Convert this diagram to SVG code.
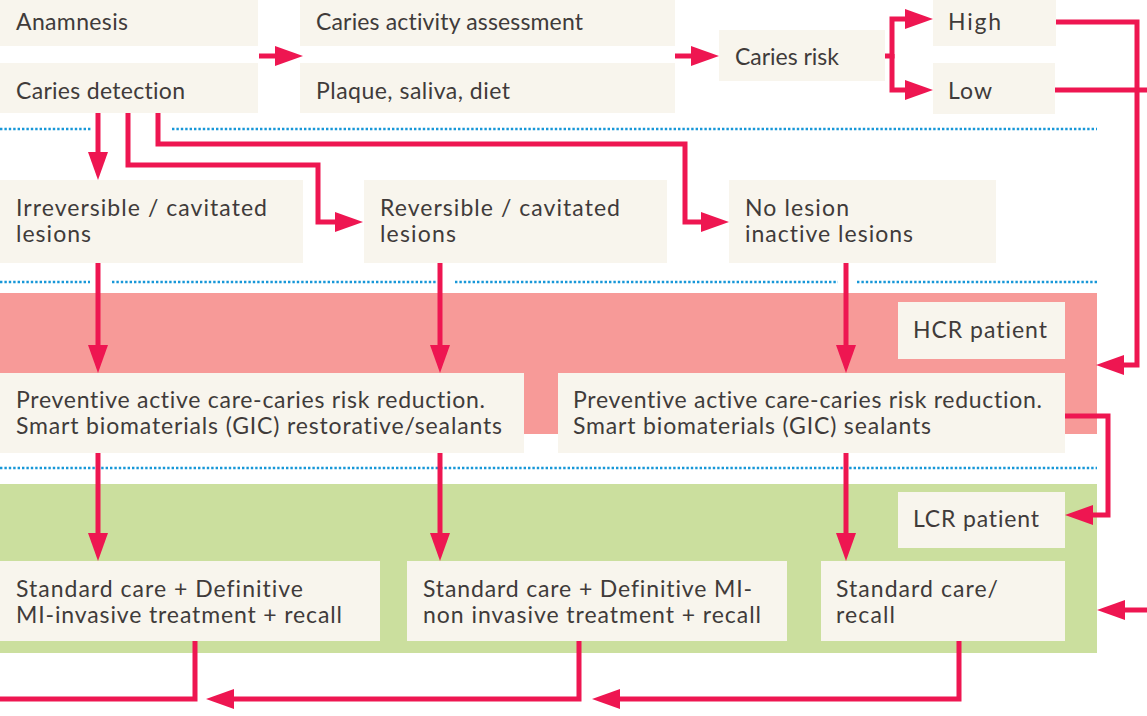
<svg xmlns="http://www.w3.org/2000/svg" width="1147" height="716" viewBox="0 0 1147 716">
<defs>
<style>
.box{fill:#f8f5ed}
.t{font-family:Lato,"Open Sans","Liberation Sans",sans-serif;font-size:23px;fill:#403b3a;font-variant-ligatures:none}
.c{fill:none;stroke:#ee1651;stroke-width:5;stroke-linejoin:miter}
.d{fill:none;stroke:#1797d8;stroke-width:2.6;stroke-dasharray:2.4 2}
</style>
<marker id="ah" markerUnits="userSpaceOnUse" markerWidth="30" markerHeight="22" viewBox="0 -11 30 22" refX="0" refY="0" orient="auto" overflow="visible">
<path d="M0,-10 L28,0 L0,10 z" fill="#ee1651"/>
</marker>
</defs>
<rect width="1147" height="716" fill="#ffffff"/>
<g id="bands">
<rect x="0" y="293" width="1097" height="141" fill="#f79a98"/>
<rect x="0" y="484" width="1097" height="169" fill="#cbdf9e"/>
</g>
<g id="separators">
<path class="d" d="M0,129 H91 M172,129 H1097"/>
<path class="d" d="M0,282 H90 M112,282 H437 M455,282 H838 M857,282 H1097"/>
<path class="d" d="M0,468 H1097"/>
</g>
<g id="anamnesis"><rect class="box" x="0" y="0" width="258" height="46"/><text class="t" x="16" y="29.5" textLength="112" lengthAdjust="spacing">Anamnesis</text></g>
<g id="caries-detection"><rect class="box" x="0" y="63" width="258" height="50"/><text class="t" x="16" y="98.5" textLength="169" lengthAdjust="spacing">Caries detection</text></g>
<g id="activity"><rect class="box" x="300" y="0" width="375" height="46"/><text class="t" x="316" y="29.5" textLength="267" lengthAdjust="spacing">Caries activity assessment</text></g>
<g id="plaque"><rect class="box" x="300" y="63" width="375" height="50"/><text class="t" x="316" y="98.5" textLength="194" lengthAdjust="spacing">Plaque, saliva, diet</text></g>
<g id="caries-risk"><rect class="box" x="719" y="30" width="166" height="51"/><text class="t" x="735" y="65" textLength="104" lengthAdjust="spacing">Caries risk</text></g>
<g id="high"><rect class="box" x="933" y="0" width="123" height="46"/><text class="t" x="948" y="29.5" textLength="53" lengthAdjust="spacing">High</text></g>
<g id="low"><rect class="box" x="933" y="63" width="122" height="51"/><text class="t" x="948" y="98.5" textLength="44" lengthAdjust="spacing">Low</text></g>
<g id="irreversible"><rect class="box" x="0" y="180" width="303" height="83"/><text class="t" x="16" y="215.5" textLength="251" lengthAdjust="spacing">Irreversible / cavitated</text><text class="t" x="16" y="242.3" textLength="75" lengthAdjust="spacing">lesions</text></g>
<g id="reversible"><rect class="box" x="364" y="180" width="303" height="83"/><text class="t" x="380" y="215.5" textLength="240" lengthAdjust="spacing">Reversible / cavitated</text><text class="t" x="380" y="242.3" textLength="76" lengthAdjust="spacing">lesions</text></g>
<g id="no-lesion"><rect class="box" x="729" y="180" width="267" height="83"/><text class="t" x="745" y="215.5" textLength="104" lengthAdjust="spacing">No lesion</text><text class="t" x="745" y="242.3" textLength="168" lengthAdjust="spacing">inactive lesions</text></g>
<g id="hcr"><rect class="box" x="898" y="302" width="167" height="57"/><text class="t" x="913" y="338" textLength="134" lengthAdjust="spacing">HCR patient</text></g>
<g id="preventive-left"><rect class="box" x="0" y="373" width="524" height="80"/><text class="t" x="16" y="407.7" textLength="469" lengthAdjust="spacing">Preventive active care-caries risk reduction.</text><text class="t" x="16" y="434.3" textLength="486" lengthAdjust="spacing">Smart biomaterials (GIC) restorative/sealants</text></g>
<g id="preventive-right"><rect class="box" x="558" y="373" width="507" height="80"/><text class="t" x="573" y="407.7" textLength="469" lengthAdjust="spacing">Preventive active care-caries risk reduction.</text><text class="t" x="573" y="434.3" textLength="358" lengthAdjust="spacing">Smart biomaterials (GIC) sealants</text></g>
<g id="lcr"><rect class="box" x="898" y="492" width="167" height="56"/><text class="t" x="913" y="527" textLength="126" lengthAdjust="spacing">LCR patient</text></g>
<g id="standard-1"><rect class="box" x="0" y="561" width="380" height="80"/><text class="t" x="16" y="596.7" textLength="287" lengthAdjust="spacing">Standard care + Definitive</text><text class="t" x="16" y="622.7" textLength="326" lengthAdjust="spacing">MI-invasive treatment + recall</text></g>
<g id="standard-2"><rect class="box" x="407" y="561" width="380" height="80"/><text class="t" x="423" y="596.7" textLength="329" lengthAdjust="spacing">Standard care + Definitive MI-</text><text class="t" x="423" y="622.7" textLength="338" lengthAdjust="spacing">non invasive treatment + recall</text></g>
<g id="standard-3"><rect class="box" x="821" y="561" width="244" height="80"/><text class="t" x="836" y="596.7" textLength="162" lengthAdjust="spacing">Standard care/</text><text class="t" x="836" y="622.7" textLength="59" lengthAdjust="spacing">recall</text></g>
<g id="connectors">
<path class="c" d="M259,56 H275" marker-end="url(#ah)"/>
<path class="c" d="M675,56 H691" marker-end="url(#ah)"/>
<path class="c" d="M885,56 H892 V19 H905" marker-end="url(#ah)"/>
<path class="c" d="M892,54 V90 H905" marker-end="url(#ah)"/>
<path class="c" d="M1056,22 H1137 V365 H1124" marker-end="url(#ah)"/>
<path class="c" d="M1055,90 H1150"/>
<path class="c" d="M1150,610 H1125" marker-end="url(#ah)"/>
<path class="c" d="M98,113 V152" marker-end="url(#ah)"/>
<path class="c" d="M128,113 V165 H318 V222 H335" marker-end="url(#ah)"/>
<path class="c" d="M158,113 V144 H685 V222 H701" marker-end="url(#ah)"/>
<path class="c" d="M98,263 V345" marker-end="url(#ah)"/>
<path class="c" d="M440,263 V345" marker-end="url(#ah)"/>
<path class="c" d="M846,263 V345" marker-end="url(#ah)"/>
<path class="c" d="M98,453 V533" marker-end="url(#ah)"/>
<path class="c" d="M440,453 V533" marker-end="url(#ah)"/>
<path class="c" d="M846,453 V533" marker-end="url(#ah)"/>
<path class="c" d="M1065,416 H1108 V515 H1093" marker-end="url(#ah)"/>
<path class="c" d="M195,641 V699 H-5"/>
<path class="c" d="M579,641 V699 H234" marker-end="url(#ah)"/>
<path class="c" d="M959,641 V699 H620" marker-end="url(#ah)"/>
</g>
</svg>
